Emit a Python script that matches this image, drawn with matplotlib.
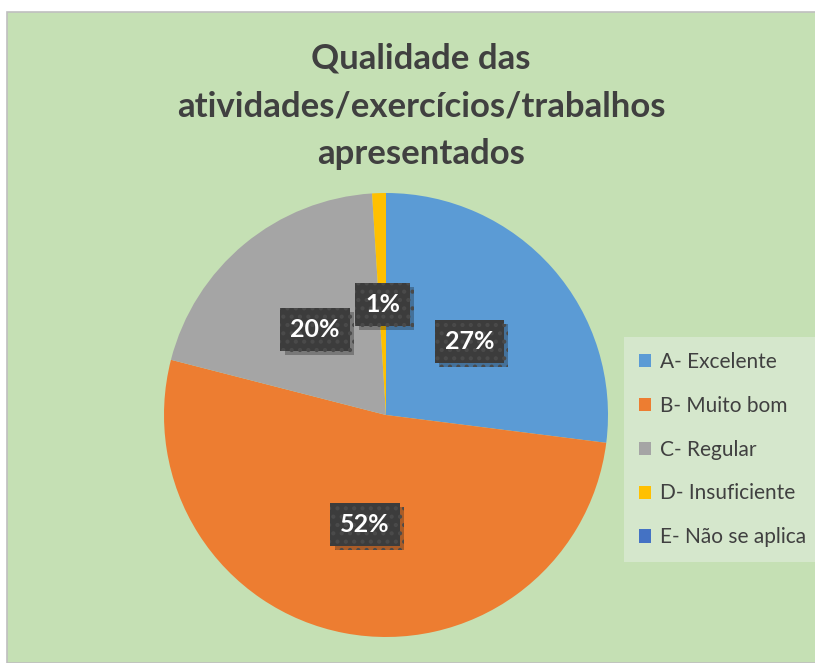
import matplotlib
matplotlib.use('Agg')
import matplotlib.pyplot as plt
import matplotlib.patches as mpatches
import matplotlib.patheffects as pe

plt.rcParams['font.family'] = ['Lato', 'DejaVu Sans']
plt.rcParams['hatch.linewidth'] = 1.8

title = 'Qualidade das\natividades/exercícios/trabalhos\napresentados'
categories = ['A- Excelente', 'B- Muito bom', 'C- Regular', 'D- Insuficiente', 'E- Não se aplica']
values = [27, 52, 20, 1, 0]
colors = ['#5B9BD5', '#ED7D31', '#A5A5A5', '#FFC000', '#4472C4']

W, H = 815, 663
fig = plt.figure(figsize=(W / 100, H / 100), dpi=100)
fig.patch.set_facecolor('white')

# chart area background with grey border top/left
bg = mpatches.Rectangle((7 / W, 0), 1, 1 - 12 / H, transform=fig.transFigure,
                        facecolor='#C5E0B4', edgecolor='#BFBFBF', linewidth=1.2, zorder=-10)
fig.patches.append(bg)

fig.text(421 / W, 1 - 106 / H, title, ha='center', va='center',
         fontsize=25, fontweight='bold', color='#404040', linespacing=1.6)

cx, cy, r = 386, 415, 222
ax = fig.add_axes([(cx - r) / W, (H - cy - r) / H, 2 * r / W, 2 * r / H])
ax.set_facecolor('none')

wedges, texts, autotexts = ax.pie(values, colors=colors, startangle=90, counterclock=False,
                                  autopct=lambda p: '%d%%' % round(p) if p > 0 else '',
                                  pctdistance=0.5, radius=1,
                                  wedgeprops=dict(linewidth=0))
for t in autotexts:
    t.set_color('white')
    t.set_fontsize(18)
    t.set_fontweight('bold')
    t.set_bbox(dict(boxstyle='square,pad=0.4', facecolor='#3c3c3c',
                    edgecolor='#4a4a4a', hatch='..', linewidth=0))
    t.get_bbox_patch().set_path_effects([pe.SimplePatchShadow(offset=(3, -3), alpha=0.3),
                                         pe.Normal()])
ax.set_xlim(-1, 1)
ax.set_ylim(-1, 1)
ax.set_aspect('equal')
ax.axis('off')

handles = [mpatches.Patch(facecolor=c, edgecolor='none') for c in colors]
leg = fig.legend(handles, categories, loc='upper left',
                 bbox_to_anchor=(624 / W, 1 - 337 / H),
                 frameon=True, fancybox=False, facecolor='#D5E7CC', edgecolor='none',
                 framealpha=1, fontsize=15, labelcolor='#404040',
                 handlelength=0.6, handleheight=0.6, handletextpad=0.45,
                 labelspacing=1.15, borderpad=0.7, borderaxespad=0)

fig.savefig('out.png', dpi=100)
